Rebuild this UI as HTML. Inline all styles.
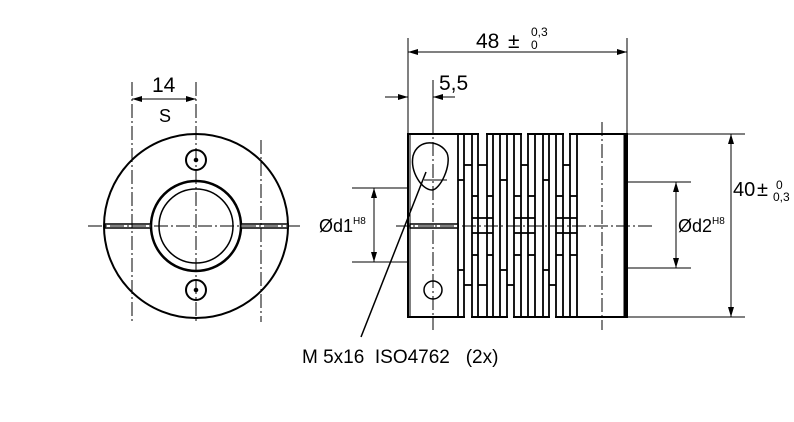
<!DOCTYPE html>
<html><head><meta charset="utf-8"><style>html,body{margin:0;background:#fff;width:794px;height:422px;overflow:hidden}</style></head>
<body>
<svg width="794" height="422" xmlns="http://www.w3.org/2000/svg" font-family="Liberation Sans, sans-serif">
<defs>
<marker id="a" viewBox="0 0 10 6" refX="10" refY="3" markerWidth="10" markerHeight="6" orient="auto-start-reverse" markerUnits="userSpaceOnUse"><path d="M0,0L10,3L0,6z" fill="#000"/></marker>
</defs>
<g stroke="#000" fill="none">
<!-- left view -->
<circle cx="196" cy="226" r="92" stroke-width="2"/>
<circle cx="196" cy="226" r="45" stroke-width="2.5"/>
<circle cx="196" cy="226" r="37" stroke-width="1.5"/>
<circle cx="196" cy="160" r="10" stroke-width="2"/>
<circle cx="196" cy="290" r="10" stroke-width="2"/>
<circle cx="196" cy="160" r="1.8" fill="#000"/>
<circle cx="196" cy="290" r="1.8" fill="#000"/>
<rect x="105" y="224" width="46" height="4" fill="#fff" stroke-width="1.5"/>
<rect x="241" y="224" width="47" height="4" fill="#fff" stroke-width="1.5"/>
<g stroke-width="1" stroke-dasharray="14,3,2,3">
<line x1="196" y1="82" x2="196" y2="322"/>
<line x1="88" y1="226" x2="300" y2="226"/>
<line x1="132" y1="82" x2="132" y2="322"/>
<line x1="261" y1="140" x2="261" y2="322"/>
</g>
<line x1="132" y1="99" x2="196" y2="99" stroke-width="1" marker-start="url(#a)" marker-end="url(#a)"/>
<!-- right view body -->
<rect x="408" y="134" width="219" height="183" stroke-width="2" fill="#fff"/>
<line x1="625" y1="134" x2="625" y2="317" stroke-width="3"/>
<line x1="410" y1="134" x2="410" y2="317" stroke-width="1"/>
<g stroke-width="1.8">
<line x1="458" y1="134" x2="458" y2="317"/><line x1="464" y1="134" x2="464" y2="317"/>
<line x1="472" y1="134" x2="472" y2="317"/><line x1="478" y1="134" x2="478" y2="317"/>
<line x1="487" y1="134" x2="487" y2="317"/><line x1="493" y1="134" x2="493" y2="317"/>
<line x1="500" y1="134" x2="500" y2="317"/><line x1="507" y1="134" x2="507" y2="317"/>
<line x1="514" y1="134" x2="514" y2="317"/><line x1="521" y1="134" x2="521" y2="317"/>
<line x1="528" y1="134" x2="528" y2="317"/><line x1="535" y1="134" x2="535" y2="317"/>
<line x1="543" y1="134" x2="543" y2="317"/><line x1="549" y1="134" x2="549" y2="317"/>
<line x1="556" y1="134" x2="556" y2="317"/><line x1="563" y1="134" x2="563" y2="317"/>
<line x1="570" y1="134" x2="570" y2="317"/><line x1="577" y1="134" x2="577" y2="317"/>
</g>
<g fill="#fff" stroke="none">
<rect x="479" y="132" width="7" height="32"/><rect x="522" y="132" width="5" height="32"/><rect x="564" y="132" width="5" height="32"/>
<rect x="465" y="286" width="6" height="33"/><rect x="508" y="286" width="5" height="33"/><rect x="550" y="286" width="5" height="33"/>
</g>
<g stroke-width="1.8">
<line x1="478" y1="165" x2="487" y2="165"/><line x1="521" y1="165" x2="528" y2="165"/><line x1="563" y1="165" x2="570" y2="165"/>
<line x1="464" y1="285" x2="472" y2="285"/><line x1="507" y1="285" x2="514" y2="285"/><line x1="549" y1="285" x2="556" y2="285"/>
<line x1="458" y1="180" x2="464" y2="180"/><line x1="458" y1="270" x2="464" y2="270"/>
<line x1="500" y1="180" x2="507" y2="180"/><line x1="500" y1="270" x2="507" y2="270"/>
<line x1="543" y1="180" x2="549" y2="180"/><line x1="543" y1="270" x2="549" y2="270"/>
<line x1="464" y1="165" x2="472" y2="165"/><line x1="478" y1="285" x2="487" y2="285"/>
<line x1="472" y1="196" x2="478" y2="196"/><line x1="472" y1="255" x2="478" y2="255"/>
<line x1="487" y1="196" x2="493" y2="196"/><line x1="487" y1="255" x2="493" y2="255"/>
<line x1="514" y1="196" x2="521" y2="196"/><line x1="514" y1="255" x2="521" y2="255"/>
<line x1="528" y1="196" x2="535" y2="196"/><line x1="528" y1="255" x2="535" y2="255"/>
<line x1="556" y1="196" x2="563" y2="196"/><line x1="556" y1="255" x2="563" y2="255"/>
<line x1="570" y1="196" x2="577" y2="196"/><line x1="570" y1="255" x2="577" y2="255"/>
<line x1="472" y1="218" x2="493" y2="218"/><line x1="472" y1="233" x2="493" y2="233"/>
<line x1="514" y1="218" x2="535" y2="218"/><line x1="514" y1="233" x2="535" y2="233"/>
<line x1="556" y1="218" x2="577" y2="218"/><line x1="556" y1="233" x2="577" y2="233"/>
</g>
<rect x="410" y="224" width="48" height="4" fill="#fff" stroke-width="1.5"/>
<path d="M413,156 C418,138 440,140 447,153 C452,165 440,190 432,190 C422,190 410,172 413,156Z" stroke-width="1.5"/>
<line x1="424" y1="180" x2="447" y2="180" stroke-width="1"/>
<circle cx="433" cy="290" r="9" stroke-width="1.5"/>
<g stroke-width="1" stroke-dasharray="14,3,2,3">
<line x1="396" y1="226" x2="655" y2="226"/>
<line x1="433" y1="120" x2="433" y2="330"/>
<line x1="602" y1="122" x2="602" y2="330"/>
</g>
<!-- dims -->
<g stroke-width="1">
<line x1="408" y1="38" x2="408" y2="134"/><line x1="627" y1="38" x2="627" y2="134"/>
<line x1="408" y1="52" x2="627" y2="52" marker-start="url(#a)" marker-end="url(#a)"/>
<line x1="433" y1="80" x2="433" y2="134"/>
<line x1="385" y1="97" x2="408" y2="97" marker-end="url(#a)"/>
<line x1="455" y1="97" x2="433" y2="97" marker-end="url(#a)"/>
<line x1="352" y1="188" x2="408" y2="188"/><line x1="352" y1="262" x2="408" y2="262"/>
<line x1="374" y1="188" x2="374" y2="262" marker-start="url(#a)" marker-end="url(#a)"/>
<line x1="627" y1="182" x2="691" y2="182"/><line x1="627" y1="268" x2="691" y2="268"/>
<line x1="676" y1="182" x2="676" y2="268" marker-start="url(#a)" marker-end="url(#a)"/>
<line x1="627" y1="134" x2="745" y2="134"/><line x1="627" y1="317" x2="745" y2="317"/>
<line x1="731" y1="134" x2="731" y2="317" marker-start="url(#a)" marker-end="url(#a)"/>
<line x1="426" y1="172" x2="361" y2="337" stroke-width="1.5"/>
</g>
</g>
<g fill="#000">
<text x="152" y="92" font-size="21">14</text>
<text x="159" y="122" font-size="18">S</text>
<text x="476" y="48" font-size="21">48</text>
<text x="508" y="48" font-size="21">±</text>
<text x="531" y="36" font-size="12">0,3</text>
<text x="531" y="49" font-size="12">0</text>
<text x="439" y="90" font-size="21">5,5</text>
<text x="319" y="232" font-size="18">Ød1<tspan font-size="10" dy="-8">H8</tspan></text>
<text x="678" y="232" font-size="18">Ød2<tspan font-size="10" dy="-8">H8</tspan></text>
<text x="733" y="196" font-size="20">40</text>
<text x="757" y="196" font-size="20">±</text>
<text x="776" y="189" font-size="12">0</text>
<text x="773" y="201" font-size="12">0,3</text>
<text x="302" y="363" font-size="19" xml:space="preserve" style="white-space:pre">M 5x16  ISO4762   (2x)</text>
</g>
</svg>
</body></html>
